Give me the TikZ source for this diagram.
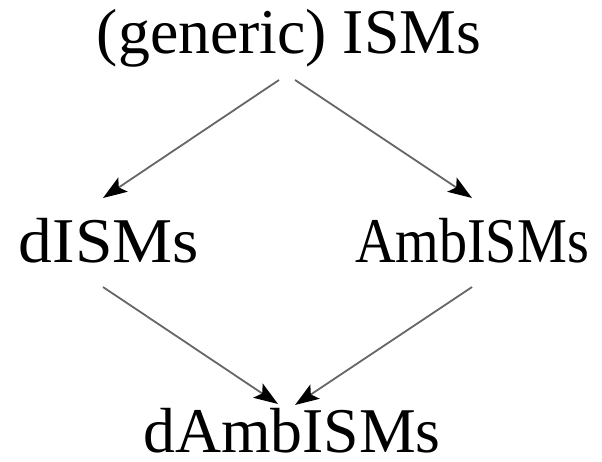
\documentclass[tikz,border=0pt]{standalone}
\usepackage{fontspec}
\setmainfont{Liberation Serif}
\usetikzlibrary{arrows.meta}
\begin{document}
\begin{tikzpicture}[x=1bp,y=-1bp,
  label/.style={inner sep=0pt, font=\fontsize{64}{70}\selectfont},
  arr/.style={draw=black!60, line width=1.8bp,
    -{Stealth[length=24bp,width=17bp,inset=5bp,black]}}]
  \useasboundingbox (0,0) rectangle (602,462);
  \node[label] (top)   at (289,38)  {(generic) ISMs};
  \node[label] (left)  at (109,241) {\scalebox{1.06}[1]{dISMs}};
  \node[label] (right) at (472,241) {\scalebox{0.88}[1]{AmbISMs}};
  \node[label] (bot)   at (292,431) {dAmbISMs};
  % arrow end points
  \coordinate (ts1) at (279,80);
  \coordinate (le1) at (103,198);
  \coordinate (ts2) at (295,80);
  \coordinate (re1) at (472,198);
  \coordinate (ls1) at (103,287);
  \coordinate (be1) at (278,404);
  \coordinate (rs1) at (472,287);
  \coordinate (be2) at (295,405);
  \draw[arr] (ts1) -- (le1);
  \draw[arr] (ts2) -- (re1);
  \draw[arr] (ls1) -- (be1);
  \draw[arr] (rs1) -- (be2);
\end{tikzpicture}
\end{document}
